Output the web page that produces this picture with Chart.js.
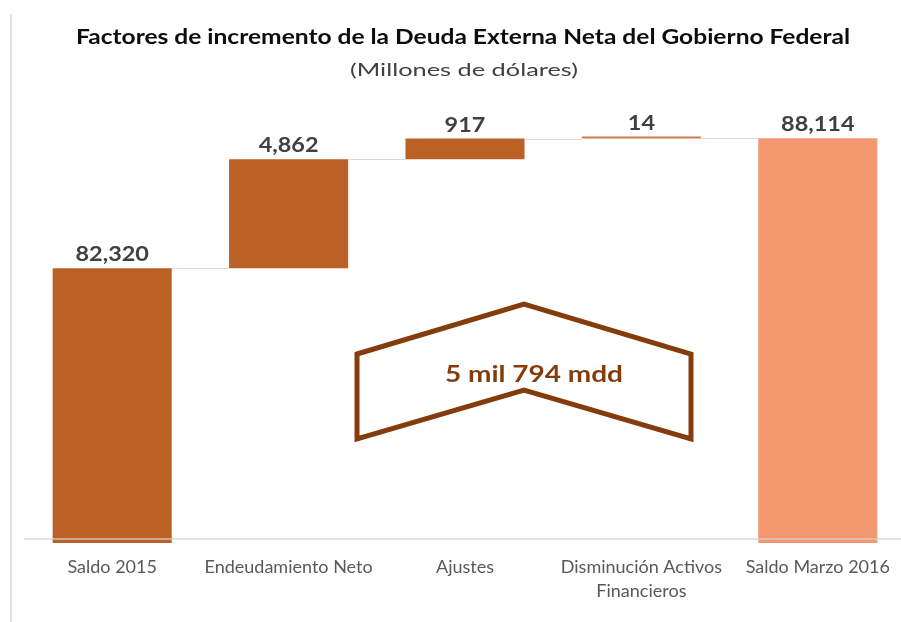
<!DOCTYPE html>
<html>
<head>
<meta charset="utf-8">
<script src="https://cdn.jsdelivr.net/npm/chart.js@4"></script>
<style>
  body { margin: 0; overflow: hidden; background: #fff; width: 901px; height: 622px; position: relative; }
  #frame { position: absolute; left: 10px; top: 14px; width: 2px; height: 608px; background: #e2e2e2; }
  #wrap { position: absolute; left: 0; top: 0; width: 906px; height: 622px; }
</style>
</head>
<body>
<div id="frame"></div>
<div id="wrap"><canvas id="chart"></canvas></div>
<script>
// Waterfall data (millones de dólares)
const categories = ['Saldo 2015', 'Endeudamiento Neto', 'Ajustes', ['Disminución Activos', 'Financieros'], 'Saldo Marzo 2016'];
const amounts = [82320, 4862, 917, 14, 88114];
const isTotal = [true, false, false, false, true];
const barColors = ['#bb6125', '#bb6125', '#bb6125', '#d07a45', '#f2976f'];

const titleText = 'Factores de incremento de la Deuda Externa Neta del Gobierno Federal';
const subtitleText = '(Millones de dólares)';
const calloutText = '5 mil 794 mdd';

const yMin = 70240;
const yMax = 90000;
const barBase = 70060; // bars run a little past the axis line, as in the original

// Build floating ranges for the waterfall
let running = 0;
const ranges = amounts.map((v, i) => {
    if (isTotal[i]) {
        running = v;
        return [barBase, v];
    }
    const r = [running, running + v];
    running += v;
    return r;
});

const fontFamily = "Lato, 'Open Sans', sans-serif";

// the original text is a bit wider than Lato, so stretch it horizontally
function drawWide(ctx, text, x, y, font, width, stretch) {
    ctx.save();
    ctx.font = font;
    const sx = width ? width / ctx.measureText(text).width : stretch;
    ctx.translate(x, y);
    ctx.scale(sx, 1);
    ctx.fillText(text, 0, 0);
    ctx.restore();
}

// Draws title, connectors, value labels, axis line and the callout
const decorations = {
    id: 'decorations',
    beforeDraw(chart) {
        const ctx = chart.ctx;
        ctx.save();
        ctx.textAlign = 'center';
        ctx.textBaseline = 'middle';
        ctx.fillStyle = '#0d0d0d';
        drawWide(ctx, titleText, 463, 37, "bold 21px " + fontFamily, 774);
        ctx.fillStyle = '#404040';
        drawWide(ctx, subtitleText, 464, 70, "18px " + fontFamily, 228);
        ctx.restore();
    },
    afterDatasetsDraw(chart) {
        const ctx = chart.ctx;
        const y = chart.scales.y;
        const bars = chart.getDatasetMeta(0).data;
        const area = chart.chartArea;
        ctx.save();

        // connector lines between bars
        ctx.strokeStyle = '#d9d9d9';
        ctx.lineWidth = 1;
        for (let i = 0; i < bars.length - 1; i++) {
            const level = Math.max(ranges[i][0], ranges[i][1]);
            const py = Math.round(y.getPixelForValue(level)) + 0.5;
            ctx.beginPath();
            ctx.moveTo(bars[i].x + bars[i].width / 2, py);
            ctx.lineTo(bars[i + 1].x - bars[i + 1].width / 2, py);
            ctx.stroke();
        }

        // axis line, drawn across the bars
        ctx.strokeStyle = 'rgba(210,210,210,0.85)';
        ctx.lineWidth = 1.5;
        ctx.beginPath();
        ctx.moveTo(area.left, area.bottom);
        ctx.lineTo(area.right, area.bottom);
        ctx.stroke();

        // value labels
        ctx.fillStyle = '#404040';
        ctx.textAlign = 'center';
        ctx.textBaseline = 'middle';
        bars.forEach((bar, i) => {
            const top = Math.min(bar.y, bar.base);
            drawWide(ctx, amounts[i].toLocaleString('en-US'), bar.x, top - 14,
                "bold 21.5px " + fontFamily, 0, 1.09);
        });

        // chevron callout
        ctx.strokeStyle = '#843c0c';
        ctx.lineWidth = 5;
        ctx.lineJoin = 'miter';
        ctx.beginPath();
        ctx.moveTo(357, 354);
        ctx.lineTo(524, 304);
        ctx.lineTo(691, 354);
        ctx.lineTo(691, 439);
        ctx.lineTo(524, 390);
        ctx.lineTo(357, 439);
        ctx.closePath();
        ctx.stroke();
        ctx.fillStyle = '#843c0c';
        drawWide(ctx, calloutText, 534, 374, "bold 23.5px " + fontFamily, 178);

        ctx.restore();
    }
};

new Chart(document.getElementById('chart'), {
    type: 'bar',
    data: {
        labels: categories,
        datasets: [{
            data: ranges,
            backgroundColor: barColors,
            borderWidth: 0,
            minBarLength: 2,
            barPercentage: 0.675,
            categoryPercentage: 1,
            clip: false
        }]
    },
    options: {
        responsive: true,
        maintainAspectRatio: false,
        animation: false,
        layout: { padding: { top: 96, left: 24, right: 0, bottom: 0 } },
        plugins: {
            legend: { display: false },
            tooltip: { enabled: false }
        },
        scales: {
            y: {
                display: false,
                min: yMin,
                max: yMax
            },
            x: {
                grid: { display: false, drawTicks: false },
                border: { display: false },
                ticks: {
                    color: '#595959',
                    padding: 16,
                    font: { family: fontFamily, size: 18, lineHeight: 1.333 },
                    maxRotation: 0,
                    autoSkip: false
                },
                afterFit(scale) { scale.height = 83; }
            }
        }
    },
    plugins: [decorations]
});
</script>
</body>
</html>
